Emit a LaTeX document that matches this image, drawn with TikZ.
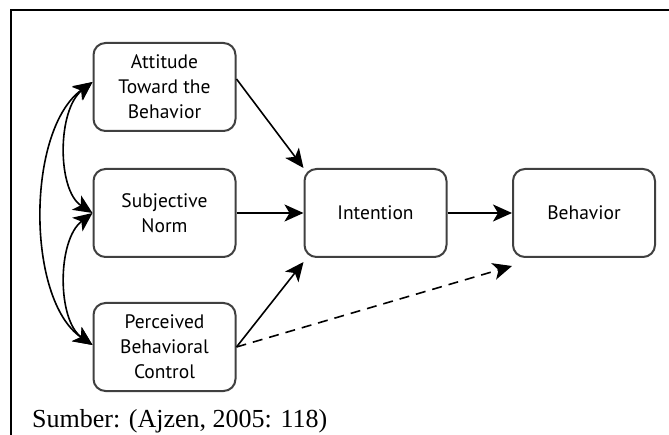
\documentclass[tikz,border=0pt]{standalone}
\usepackage{fontspec}
\setmainfont{Liberation Serif}
\newfontfamily\boxfont{PT Sans}
\usetikzlibrary{arrows.meta,calc}

\tikzset{
  bigtip/.tip={Stealth[length=19pt,width=17pt,inset=5pt]}
}

\begin{document}
\begin{tikzpicture}[x=1pt,y=-1pt,
  construct/.style={draw=black!75, line width=2pt, rounded corners=12pt,
    minimum width=142pt, minimum height=88pt, align=center,
    font=\boxfont\fontsize{19.5}{25}\selectfont, inner sep=0pt},
  link/.style={line width=1.6pt, -bigtip},
  corr/.style={line width=1.6pt, bigtip-bigtip},
  caption/.style={font=\fontsize{26}{30}\selectfont, anchor=base west, inner sep=0pt}
]
\useasboundingbox (0,0) rectangle (669,435);

% frame: top and left edges only
\draw[line width=2pt] (10.5,436) -- (10.5,10) -- (670,10);

% constructs
\node[construct] (att) at (164.5,87)  {Attitude\\Toward the\\Behavior};
\node[construct] (sn)  at (164.5,213) {Subjective\\Norm};
\node[construct] (pbc) at (164.5,347) {Perceived\\Behavioral\\Control};
\node[construct] (int) at (375.5,213) {Intention};
\node[construct] (beh) at (584,213)   {Behavior};

% attach points for the correlation arcs
\coordinate (attw) at ($(att.west)+(0,-5)$);
\coordinate (snw)  at (sn.west);
\coordinate (pbcw) at ($(pbc.west)+(0,-2)$);

% correlations among the antecedents
\draw[corr] (attw) .. controls (57,110) and (57,190) .. (snw);
\draw[corr] (snw) .. controls (57,240) and (57,320) .. (pbcw);
\draw[corr] (attw) .. controls (26,130) and (26,300) .. (pbcw);

% paths to intention and behavior
\coordinate (attout) at ($(att.east)+(0,-8)$);
\draw[link] (attout) -- (int.north west);
\draw[link] (sn.east) -- (int.west);
\draw[link] (pbc.east) -- ($(int.south west)+(0,4)$);
\draw[link] (int.east) -- (beh.west);
\draw[link, dash pattern=on 10pt off 7pt] (pbc.east) -- ($(beh.south west)+(0,8)$);

% source line
\node[caption] (src) at (32,427) {Sumber: (Ajzen, 2005: 118)};
\end{tikzpicture}
\end{document}
